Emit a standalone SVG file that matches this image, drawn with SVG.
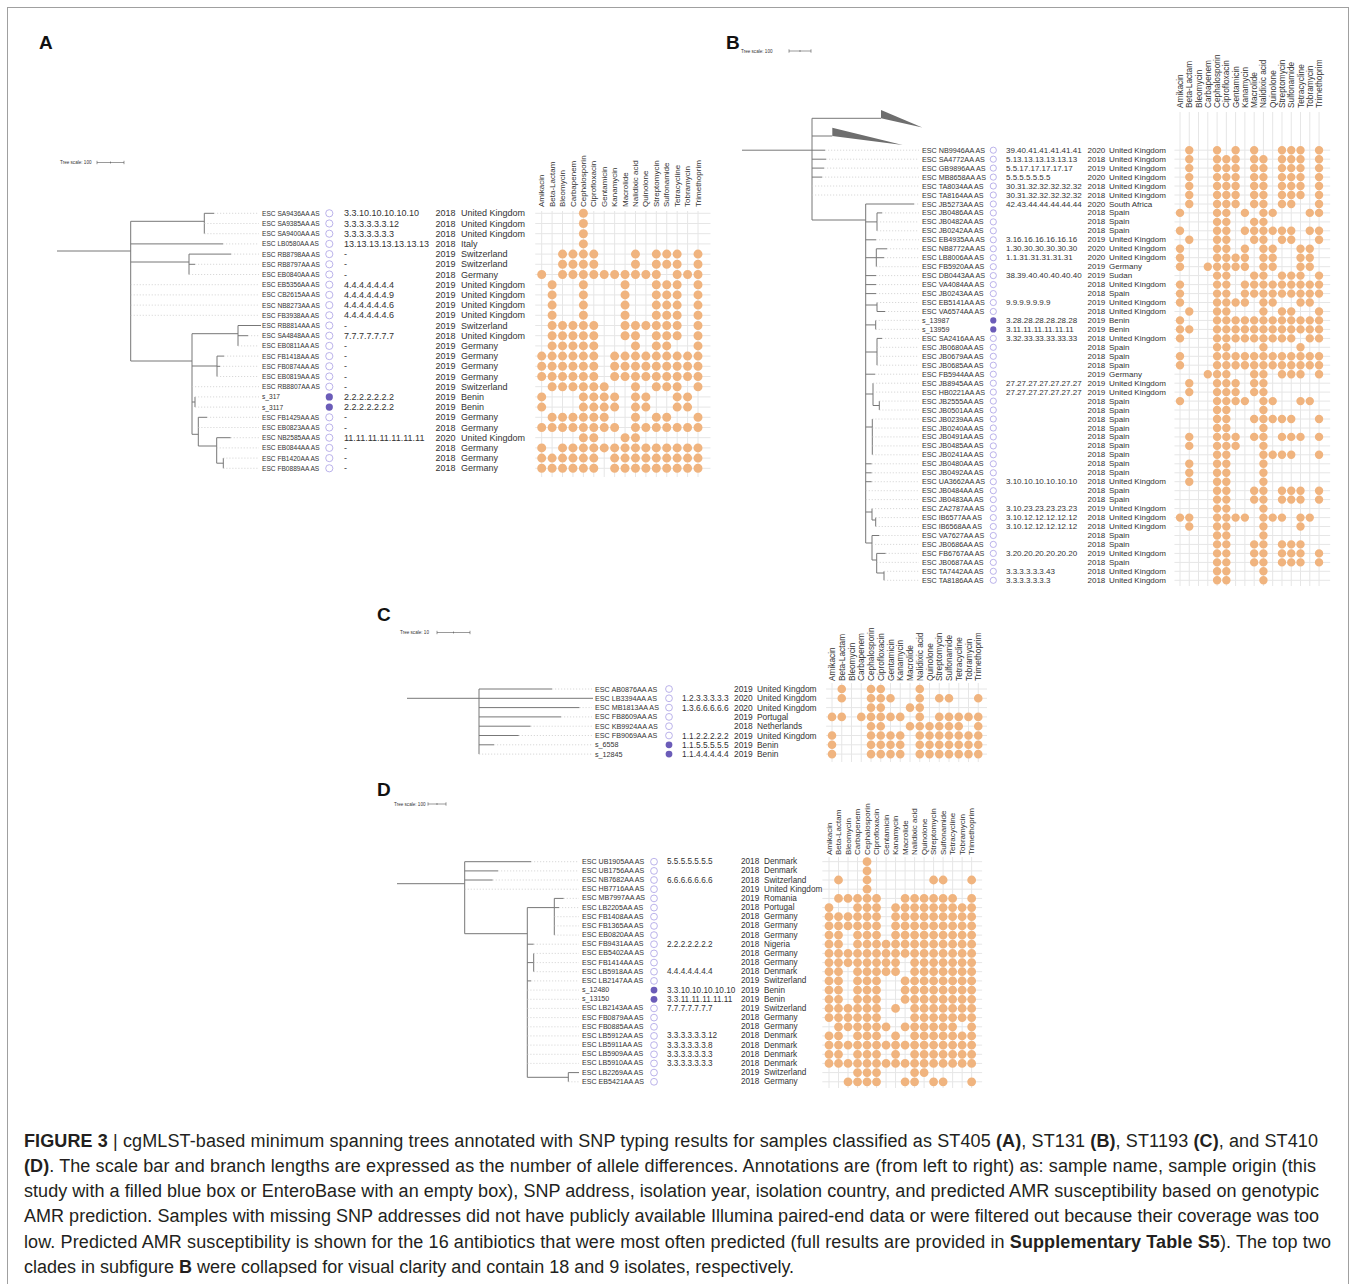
<svg xmlns="http://www.w3.org/2000/svg" width="1356" height="1284" viewBox="0 0 1356 1284">
<style>
text{font-family:"Liberation Sans",Arial,Helvetica,sans-serif;fill:#333;dominant-baseline:central}
.nA{font-size:6.6px}.nB{font-size:7.2px}.nC{font-size:7.2px}.nD{font-size:7.1px}
.o{fill:#fff;stroke:#aaa0e4;stroke-width:.8}
.f{fill:#6b5cb8}
.d{fill:none;stroke:#f0b47f;stroke-linecap:round;vector-effect:non-scaling-stroke}
.dA{stroke-width:9}.dB{stroke-width:8.4}.dC{stroke-width:8.6}.dD{stroke-width:8.8}
.g{fill:none;stroke:#e6e6e6;stroke-width:1;vector-effect:non-scaling-stroke}
.tr{fill:none;stroke:#777;stroke-width:1}
.ld{fill:none;stroke:#c8c8c8;stroke-width:.7;stroke-dasharray:1.2 1.8}
.tri{fill:#6e6e6e}
.pl{font-size:19px;font-weight:bold;fill:#111;dominant-baseline:auto}
.ts{font-size:4.6px}
.sb{fill:none;stroke:#555;stroke-width:.6}
.cap{font-size:18px;fill:#231f20;dominant-baseline:auto}
.b{font-weight:bold}
</style>
<rect x="7.5" y="7.5" width="1341" height="1300" fill="none" stroke="#a0a0a0"/>

<!-- PANEL A -->
<g id="panelA">
<text class="pl" x="39" y="48.5">A</text>
<text class="ts" x="60" y="162.5">Tree scale: 100</text>
<path class="sb" d="M97 162.5H124M97 160.8V164.2M124 160.8V164.2M110.5 161.5V163.5"/>
<path id="gridA" class="g" transform="translate(541.7 0) scale(10.42 1)" d="M0 211V477M1 211V477M2 211V477M3 211V477M4 211V477M5 211V477M6 211V477M7 211V477M8 211V477M9 211V477M10 211V477M11 211V477M12 211V477M13 211V477M14 211V477M15 211V477M-0.62 213.3H16.2M-0.62 223.5H16.2M-0.62 233.7H16.2M-0.62 243.9H16.2M-0.62 254.1H16.2M-0.62 264.3H16.2M-0.62 274.5H16.2M-0.62 284.7H16.2M-0.62 294.9H16.2M-0.62 305.1H16.2M-0.62 315.3H16.2M-0.62 325.5H16.2M-0.62 335.7H16.2M-0.62 345.9H16.2M-0.62 356.1H16.2M-0.62 366.3H16.2M-0.62 376.5H16.2M-0.62 386.7H16.2M-0.62 396.9H16.2M-0.62 407.1H16.2M-0.62 417.3H16.2M-0.62 427.5H16.2M-0.62 437.7H16.2M-0.62 447.9H16.2M-0.62 458.1H16.2M-0.62 468.3H16.2"/>
<g id="hdrA" transform="rotate(-90)" font-size="8">
<text x="-207" y="541.7">Amikacin</text><text x="-207" y="552.1">Beta-Lactam</text><text x="-207" y="562.5">Bleomycin</text><text x="-207" y="573">Carbapenem</text><text x="-207" y="583.4">Cephalosporin</text><text x="-207" y="593.8">Ciprofloxacin</text><text x="-207" y="604.2">Gentamicin</text><text x="-207" y="614.6">Kanamycin</text><text x="-207" y="625.1">Macrolide</text><text x="-207" y="635.5">Nalidixic acid</text><text x="-207" y="645.9">Quinolone</text><text x="-207" y="656.3">Streptomycin</text><text x="-207" y="666.7">Sulfonamide</text><text x="-207" y="677.2">Tetracycline</text><text x="-207" y="687.6">Tobramycin</text><text x="-207" y="698">Trimethoprim</text>
</g>
<g id="connA">
<path class="tr" d="M57 251H130.7M130.7 221.3V361M130.7 221.3H204.3M204.3 213.3V233.7M204.3 213.3H214M130.7 243.9H223M130.7 262H189M189 254.1V274.5M189 254.1H231M189 264.3H195M130.7 361H192M192 333.7V434.3M192 333.7H238M238 325.5V345.9M238 325.5H261M238 335.7H248M192 366H217M217 356.1V376.5M217 356.1H224M217 366.3H220M192 402H195M195 396.9V407.1M192 434.3H198.3M198.3 417.3V446M198.3 417.3H207M198.3 446H216.7M216.7 437.7V463.2M216.7 437.7H230.7M216.7 463.2H223.3M223.3 458.1V468.3"/>
<path class="ld" d="M214 213.3H259M204.3 223.5H259M204.3 233.7H259M223 243.9H259M231 254.1H259M195 264.3H259M189 274.5H259M130.7 284.7H259M130.7 294.9H259M130.7 305.1H259M130.7 315.3H259M248 335.7H259M238 345.9H259M224 356.1H259M220 366.3H259M217 376.5H259M192 386.7H259M195 396.9H259M195 407.1H259M207 417.3H259M198.3 427.5H259M230.7 437.7H259M216.7 447.9H259M223.3 458.1H259M223.3 468.3H259"/>
</g>
<g id="nodesA" font-size="9">
<g id="a0" transform="translate(0 213.3)"><text class="nA" x="262">ESC SA9436AA AS</text><circle class="o" cx="329.3" r="3.6"/><text x="344">3.3.10.10.10.10.10</text><text x="435.5">2018</text><text x="461">United Kingdom</text><path class="d dA" transform="translate(541.7 0) scale(10.42 1)" d="M4 0h0"/></g>
<g id="a1" transform="translate(0 223.5)"><text class="nA" x="262">ESC SA9385AA AS</text><circle class="o" cx="329.3" r="3.6"/><text x="344">3.3.3.3.3.3.12</text><text x="435.5">2018</text><text x="461">United Kingdom</text><path class="d dA" transform="translate(541.7 0) scale(10.42 1)" d="M4 0h0"/></g>
<g id="a2" transform="translate(0 233.7)"><text class="nA" x="262">ESC SA9400AA AS</text><circle class="o" cx="329.3" r="3.6"/><text x="344">3.3.3.3.3.3.3</text><text x="435.5">2018</text><text x="461">United Kingdom</text><path class="d dA" transform="translate(541.7 0) scale(10.42 1)" d="M4 0h0"/></g>
<g id="a3" transform="translate(0 243.9)"><text class="nA" x="262">ESC LB0580AA AS</text><circle class="o" cx="329.3" r="3.6"/><text x="344">13.13.13.13.13.13.13</text><text x="435.5">2018</text><text x="461">Italy</text><path class="d dA" transform="translate(541.7 0) scale(10.42 1)" d="M4 0h0"/></g>
<g id="a4" transform="translate(0 254.1)"><text class="nA" x="262">ESC RB8798AA AS</text><circle class="o" cx="329.3" r="3.6"/><text x="344">-</text><text x="435.5">2019</text><text x="461">Switzerland</text><path class="d dA" transform="translate(541.7 0) scale(10.42 1)" d="M2 0h0M3 0h0M4 0h0M5 0h0M9 0h0M11 0h0M12 0h0M13 0h0M15 0h0"/></g>
<g id="a5" transform="translate(0 264.3)"><text class="nA" x="262">ESC RB8797AA AS</text><circle class="o" cx="329.3" r="3.6"/><text x="344">-</text><text x="435.5">2019</text><text x="461">Switzerland</text><path class="d dA" transform="translate(541.7 0) scale(10.42 1)" d="M2 0h0M3 0h0M4 0h0M5 0h0M9 0h0M11 0h0M12 0h0M13 0h0M15 0h0"/></g>
<g id="a6" transform="translate(0 274.5)"><text class="nA" x="262">ESC EB0840AA AS</text><circle class="o" cx="329.3" r="3.6"/><text x="344">-</text><text x="435.5">2018</text><text x="461">Germany</text><path class="d dA" transform="translate(541.7 0) scale(10.42 1)" d="M0 0h0M2 0h0M3 0h0M4 0h0M5 0h0M6 0h0M7 0h0M8 0h0M9 0h0M10 0h0M11 0h0M13 0h0M14 0h0M15 0h0"/></g>
<g id="a7" transform="translate(0 284.7)"><text class="nA" x="262">ESC EB5356AA AS</text><circle class="o" cx="329.3" r="3.6"/><text x="344">4.4.4.4.4.4.4</text><text x="435.5">2019</text><text x="461">United Kingdom</text><path class="d dA" transform="translate(541.7 0) scale(10.42 1)" d="M1 0h0M4 0h0M8 0h0M11 0h0M12 0h0M13 0h0M15 0h0"/></g>
<g id="a8" transform="translate(0 294.9)"><text class="nA" x="262">ESC CB2615AA AS</text><circle class="o" cx="329.3" r="3.6"/><text x="344">4.4.4.4.4.4.9</text><text x="435.5">2019</text><text x="461">United Kingdom</text><path class="d dA" transform="translate(541.7 0) scale(10.42 1)" d="M1 0h0M4 0h0M8 0h0M11 0h0M12 0h0M13 0h0M15 0h0"/></g>
<g id="a9" transform="translate(0 305.1)"><text class="nA" x="262">ESC NB8273AA AS</text><circle class="o" cx="329.3" r="3.6"/><text x="344">4.4.4.4.4.4.6</text><text x="435.5">2019</text><text x="461">United Kingdom</text><path class="d dA" transform="translate(541.7 0) scale(10.42 1)" d="M1 0h0M4 0h0M8 0h0M11 0h0M12 0h0M13 0h0M15 0h0"/></g>
<g id="a10" transform="translate(0 315.3)"><text class="nA" x="262">ESC FB3938AA AS</text><circle class="o" cx="329.3" r="3.6"/><text x="344">4.4.4.4.4.4.6</text><text x="435.5">2019</text><text x="461">United Kingdom</text><path class="d dA" transform="translate(541.7 0) scale(10.42 1)" d="M1 0h0M4 0h0M8 0h0M11 0h0M12 0h0M13 0h0M15 0h0"/></g>
<g id="a11" transform="translate(0 325.5)"><text class="nA" x="262">ESC RB8814AA AS</text><circle class="o" cx="329.3" r="3.6"/><text x="344">-</text><text x="435.5">2019</text><text x="461">Switzerland</text><path class="d dA" transform="translate(541.7 0) scale(10.42 1)" d="M1 0h0M2 0h0M3 0h0M4 0h0M5 0h0M8 0h0M9 0h0M10 0h0M11 0h0M12 0h0M13 0h0M15 0h0"/></g>
<g id="a12" transform="translate(0 335.7)"><text class="nA" x="262">ESC SA4848AA AS</text><circle class="o" cx="329.3" r="3.6"/><text x="344">7.7.7.7.7.7.7</text><text x="435.5">2018</text><text x="461">United Kingdom</text><path class="d dA" transform="translate(541.7 0) scale(10.42 1)" d="M1 0h0M2 0h0M3 0h0M4 0h0M5 0h0M8 0h0M9 0h0M11 0h0M12 0h0M13 0h0M15 0h0"/></g>
<g id="a13" transform="translate(0 345.9)"><text class="nA" x="262">ESC EB0811AA AS</text><circle class="o" cx="329.3" r="3.6"/><text x="344">-</text><text x="435.5">2019</text><text x="461">Germany</text><path class="d dA" transform="translate(541.7 0) scale(10.42 1)" d="M1 0h0M2 0h0M3 0h0M4 0h0M5 0h0M9 0h0M11 0h0M12 0h0M15 0h0"/></g>
<g id="a14" transform="translate(0 356.1)"><text class="nA" x="262">ESC FB1418AA AS</text><circle class="o" cx="329.3" r="3.6"/><text x="344">-</text><text x="435.5">2019</text><text x="461">Germany</text><path class="d dA" transform="translate(541.7 0) scale(10.42 1)" d="M0 0h0M1 0h0M2 0h0M3 0h0M4 0h0M5 0h0M7 0h0M8 0h0M9 0h0M10 0h0M11 0h0M12 0h0M13 0h0M14 0h0M15 0h0"/></g>
<g id="a15" transform="translate(0 366.3)"><text class="nA" x="262">ESC FB0874AA AS</text><circle class="o" cx="329.3" r="3.6"/><text x="344">-</text><text x="435.5">2019</text><text x="461">Germany</text><path class="d dA" transform="translate(541.7 0) scale(10.42 1)" d="M0 0h0M1 0h0M2 0h0M3 0h0M4 0h0M5 0h0M7 0h0M8 0h0M9 0h0M10 0h0M11 0h0M12 0h0M13 0h0M14 0h0M15 0h0"/></g>
<g id="a16" transform="translate(0 376.5)"><text class="nA" x="262">ESC EB0819AA AS</text><circle class="o" cx="329.3" r="3.6"/><text x="344">-</text><text x="435.5">2019</text><text x="461">Germany</text><path class="d dA" transform="translate(541.7 0) scale(10.42 1)" d="M0 0h0M1 0h0M2 0h0M3 0h0M4 0h0M5 0h0M7 0h0M8 0h0M9 0h0M10 0h0M11 0h0M12 0h0M13 0h0M14 0h0M15 0h0"/></g>
<g id="a17" transform="translate(0 386.7)"><text class="nA" x="262">ESC RB8807AA AS</text><circle class="o" cx="329.3" r="3.6"/><text x="344">-</text><text x="435.5">2019</text><text x="461">Switzerland</text><path class="d dA" transform="translate(541.7 0) scale(10.42 1)" d="M1 0h0M2 0h0M3 0h0M4 0h0M5 0h0M6 0h0M9 0h0M11 0h0M12 0h0M13 0h0M15 0h0"/></g>
<g id="a18" transform="translate(0 396.9)"><text class="nA" x="262">s_317</text><circle class="f" cx="329.3" r="3.6"/><text x="344">2.2.2.2.2.2.2</text><text x="435.5">2019</text><text x="461">Benin</text><path class="d dA" transform="translate(541.7 0) scale(10.42 1)" d="M0 0h0M4 0h0M5 0h0M6 0h0M7 0h0M9 0h0M10 0h0M13 0h0M14 0h0"/></g>
<g id="a19" transform="translate(0 407.1)"><text class="nA" x="262">s_3117</text><circle class="f" cx="329.3" r="3.6"/><text x="344">2.2.2.2.2.2.2</text><text x="435.5">2019</text><text x="461">Benin</text><path class="d dA" transform="translate(541.7 0) scale(10.42 1)" d="M0 0h0M4 0h0M5 0h0M6 0h0M7 0h0M9 0h0M10 0h0M13 0h0M14 0h0"/></g>
<g id="a20" transform="translate(0 417.3)"><text class="nA" x="262">ESC FB1429AA AS</text><circle class="o" cx="329.3" r="3.6"/><text x="344">-</text><text x="435.5">2019</text><text x="461">Germany</text><path class="d dA" transform="translate(541.7 0) scale(10.42 1)" d="M1 0h0M2 0h0M3 0h0M4 0h0M5 0h0M6 0h0M9 0h0M11 0h0M12 0h0M15 0h0"/></g>
<g id="a21" transform="translate(0 427.5)"><text class="nA" x="262">ESC EB0823AA AS</text><circle class="o" cx="329.3" r="3.6"/><text x="344">-</text><text x="435.5">2018</text><text x="461">Germany</text><path class="d dA" transform="translate(541.7 0) scale(10.42 1)" d="M0 0h0M1 0h0M2 0h0M3 0h0M4 0h0M5 0h0M6 0h0M7 0h0M9 0h0M10 0h0M11 0h0M12 0h0M13 0h0M14 0h0M15 0h0"/></g>
<g id="a22" transform="translate(0 437.7)"><text class="nA" x="262">ESC NB2585AA AS</text><circle class="o" cx="329.3" r="3.6"/><text x="344">11.11.11.11.11.11.11</text><text x="435.5">2020</text><text x="461">United Kingdom</text><path class="d dA" transform="translate(541.7 0) scale(10.42 1)" d="M4 0h0M5 0h0M8 0h0M9 0h0"/></g>
<g id="a23" transform="translate(0 447.9)"><text class="nA" x="262">ESC EB0844AA AS</text><circle class="o" cx="329.3" r="3.6"/><text x="344">-</text><text x="435.5">2018</text><text x="461">Germany</text><path class="d dA" transform="translate(541.7 0) scale(10.42 1)" d="M0 0h0M2 0h0M3 0h0M4 0h0M5 0h0M6 0h0M7 0h0M8 0h0M9 0h0M10 0h0M11 0h0M12 0h0M13 0h0M14 0h0M15 0h0"/></g>
<g id="a24" transform="translate(0 458.1)"><text class="nA" x="262">ESC FB1420AA AS</text><circle class="o" cx="329.3" r="3.6"/><text x="344">-</text><text x="435.5">2018</text><text x="461">Germany</text><path class="d dA" transform="translate(541.7 0) scale(10.42 1)" d="M0 0h0M1 0h0M2 0h0M3 0h0M4 0h0M5 0h0M7 0h0M8 0h0M9 0h0M10 0h0M11 0h0M12 0h0M13 0h0M14 0h0M15 0h0"/></g>
<g id="a25" transform="translate(0 468.3)"><text class="nA" x="262">ESC FB0889AA AS</text><circle class="o" cx="329.3" r="3.6"/><text x="344">-</text><text x="435.5">2018</text><text x="461">Germany</text><path class="d dA" transform="translate(541.7 0) scale(10.42 1)" d="M0 0h0M1 0h0M2 0h0M3 0h0M4 0h0M5 0h0M7 0h0M8 0h0M9 0h0M10 0h0M11 0h0M12 0h0M13 0h0M14 0h0M15 0h0"/></g>
</g>
</g>

<!-- PANEL B -->
<g id="panelB">
<text class="pl" x="726" y="48.5">B</text>
<text class="ts" x="741" y="51">Tree scale: 100</text>
<path class="sb" d="M789 51H811M789 49.3V52.7M811 49.3V52.7M800 50V52"/>
<path id="gridB" class="g" transform="translate(1180 0) scale(9.27 1)" d="M0 112V586M1 112V586M2 112V586M3 112V586M4 112V586M5 112V586M6 112V586M7 112V586M8 112V586M9 112V586M10 112V586M11 112V586M12 112V586M13 112V586M14 112V586M15 112V586M-0.6 150.2H16.2M-0.6 159.2H16.2M-0.6 168.1H16.2M-0.6 177.1H16.2M-0.6 186H16.2M-0.6 195H16.2M-0.6 204H16.2M-0.6 212.9H16.2M-0.6 221.9H16.2M-0.6 230.8H16.2M-0.6 239.8H16.2M-0.6 248.8H16.2M-0.6 257.7H16.2M-0.6 266.7H16.2M-0.6 275.6H16.2M-0.6 284.6H16.2M-0.6 293.6H16.2M-0.6 302.5H16.2M-0.6 311.5H16.2M-0.6 320.4H16.2M-0.6 329.4H16.2M-0.6 338.4H16.2M-0.6 347.3H16.2M-0.6 356.3H16.2M-0.6 365.2H16.2M-0.6 374.2H16.2M-0.6 383.2H16.2M-0.6 392.1H16.2M-0.6 401.1H16.2M-0.6 410H16.2M-0.6 419H16.2M-0.6 428H16.2M-0.6 436.9H16.2M-0.6 445.9H16.2M-0.6 454.8H16.2M-0.6 463.8H16.2M-0.6 472.8H16.2M-0.6 481.7H16.2M-0.6 490.7H16.2M-0.6 499.6H16.2M-0.6 508.6H16.2M-0.6 517.6H16.2M-0.6 526.5H16.2M-0.6 535.5H16.2M-0.6 544.4H16.2M-0.6 553.4H16.2M-0.6 562.4H16.2M-0.6 571.3H16.2M-0.6 580.3H16.2"/>
<g id="hdrB" transform="rotate(-90)" font-size="8.3">
<text x="-108" y="1180">Amikacin</text><text x="-108" y="1189.3">Beta-Lactam</text><text x="-108" y="1198.5">Bleomycin</text><text x="-108" y="1207.8">Carbapenem</text><text x="-108" y="1217.1">Cephalosporin</text><text x="-108" y="1226.4">Ciprofloxacin</text><text x="-108" y="1235.6">Gentamicin</text><text x="-108" y="1244.9">Kanamycin</text><text x="-108" y="1254.2">Macrolide</text><text x="-108" y="1263.4">Nalidixic acid</text><text x="-108" y="1272.7">Quinolone</text><text x="-108" y="1282">Streptomycin</text><text x="-108" y="1291.2">Sulfonamide</text><text x="-108" y="1300.5">Tetracycline</text><text x="-108" y="1309.8">Tobramycin</text><text x="-108" y="1319.1">Trimethoprim</text>
</g>
<g id="connB">
<path class="tr" d="M742 150.2H825M812 118.3V220M812 118.3H881M812 136H832.3M812 159.2H826M812 168.1H824M812 177.1H822M812 220H865.7M865.7 204V543M865.7 204H914M865.7 221.9H877M877 212.9V230.8M877 212.9H882M865.7 239.8H876M865.7 257.7H876.3M876.3 248.8V266.7M876.3 248.8H887M876.3 257.7H884M865.7 275.6H876M865.7 284.6H876M865.7 293.6H876M865.7 305H877M877 302.5V311.5M877 311.5H885M865.7 324.9H875.7M875.7 320.4V329.4M865.7 352H877M877 338.4V365.2M877 338.4H882M865.7 374.2H875M865.7 394H873M873 383.2V405.5M873 405.5H879.3M879.3 401.1V410M865.7 427H872.3M872.3 419V454.8M865.7 463.8H871.7M865.7 472.8H871.7M865.7 481.7H871.7M865.7 512H872M872 508.6V520M872 520H875.7M875.7 517.6V526.5M865.7 543H872M872 535.5V560M872 535.5H879.3M872 560H876.7M876.7 553.4V573M876.7 553.4H885.7M876.7 573H884M884 571.3V580.3"/>
<polygon class="tri" points="881,110 881,118.3 922.3,127.5"/>
<polygon class="tri" points="832.3,127.7 832.3,136 902.7,145"/>
<path class="ld" d="M825 150.2H919M826 159.2H919M824 168.1H919M822 177.1H919M812 186H919M812 195H919M914 204H919M882 212.9H919M877 221.9H919M877 230.8H919M876 239.8H919M887 248.8H919M884 257.7H919M876.3 266.7H919M876 275.6H919M876 284.6H919M876 293.6H919M877 302.5H919M885 311.5H919M875.7 320.4H919M875.7 329.4H919M882 338.4H919M877 347.3H919M877 356.3H919M877 365.2H919M875 374.2H919M873 383.2H919M873 392.1H919M879.3 401.1H919M879.3 410H919M872.3 419H919M872.3 428H919M872.3 436.9H919M872.3 445.9H919M872.3 454.8H919M871.7 463.8H919M871.7 472.8H919M871.7 481.7H919M865.7 490.7H919M865.7 499.6H919M872 508.6H919M875.7 517.6H919M875.7 526.5H919M879.3 535.5H919M872 544.4H919M885.7 553.4H919M876.7 562.4H919M884 571.3H919M884 580.3H919"/>
</g>
<g id="nodesB" font-size="8">
<g id="b0" transform="translate(0 150.2)"><text class="nB" x="922">ESC NB9946AA AS</text><circle class="o" cx="993.3" r="3.1"/><text x="1006">39.40.41.41.41.41.41</text><text x="1087.5">2020</text><text x="1109">United Kingdom</text><path class="d dB" transform="translate(1180 0) scale(9.27 1)" d="M1 0h0M4 0h0M6 0h0M8 0h0M11 0h0M12 0h0M13 0h0M15 0h0"/></g>
<g id="b1" transform="translate(0 159.2)"><text class="nB" x="922">ESC SA4772AA AS</text><circle class="o" cx="993.3" r="3.1"/><text x="1006">5.13.13.13.13.13.13</text><text x="1087.5">2018</text><text x="1109">United Kingdom</text><path class="d dB" transform="translate(1180 0) scale(9.27 1)" d="M1 0h0M4 0h0M5 0h0M6 0h0M8 0h0M9 0h0M11 0h0M12 0h0M13 0h0M15 0h0"/></g>
<g id="b2" transform="translate(0 168.1)"><text class="nB" x="922">ESC GB9896AA AS</text><circle class="o" cx="993.3" r="3.1"/><text x="1006">5.5.17.17.17.17.17</text><text x="1087.5">2019</text><text x="1109">United Kingdom</text><path class="d dB" transform="translate(1180 0) scale(9.27 1)" d="M1 0h0M4 0h0M5 0h0M6 0h0M8 0h0M9 0h0M11 0h0M12 0h0M13 0h0M15 0h0"/></g>
<g id="b3" transform="translate(0 177.1)"><text class="nB" x="922">ESC MB8658AA AS</text><circle class="o" cx="993.3" r="3.1"/><text x="1006">5.5.5.5.5.5.5</text><text x="1087.5">2020</text><text x="1109">United Kingdom</text><path class="d dB" transform="translate(1180 0) scale(9.27 1)" d="M1 0h0M4 0h0M5 0h0M6 0h0M8 0h0M9 0h0M11 0h0M12 0h0M13 0h0M15 0h0"/></g>
<g id="b4" transform="translate(0 186)"><text class="nB" x="922">ESC TA8034AA AS</text><circle class="o" cx="993.3" r="3.1"/><text x="1006">30.31.32.32.32.32.32</text><text x="1087.5">2018</text><text x="1109">United Kingdom</text><path class="d dB" transform="translate(1180 0) scale(9.27 1)" d="M1 0h0M4 0h0M5 0h0M6 0h0M8 0h0M9 0h0M11 0h0M12 0h0M13 0h0M15 0h0"/></g>
<g id="b5" transform="translate(0 195)"><text class="nB" x="922">ESC TA8164AA AS</text><circle class="o" cx="993.3" r="3.1"/><text x="1006">30.31.32.32.32.32.32</text><text x="1087.5">2018</text><text x="1109">United Kingdom</text><path class="d dB" transform="translate(1180 0) scale(9.27 1)" d="M1 0h0M4 0h0M5 0h0M6 0h0M8 0h0M9 0h0M11 0h0M12 0h0M13 0h0M15 0h0"/></g>
<g id="b6" transform="translate(0 204)"><text class="nB" x="922">ESC JB5273AA AS</text><circle class="o" cx="993.3" r="3.1"/><text x="1006">42.43.44.44.44.44.44</text><text x="1087.5">2020</text><text x="1109">South Africa</text><path class="d dB" transform="translate(1180 0) scale(9.27 1)" d="M1 0h0M4 0h0M5 0h0M6 0h0M8 0h0M9 0h0M11 0h0M12 0h0M15 0h0"/></g>
<g id="b7" transform="translate(0 212.9)"><text class="nB" x="922">ESC JB0486AA AS</text><circle class="o" cx="993.3" r="3.1"/><text x="1087.5">2018</text><text x="1109">Spain</text><path class="d dB" transform="translate(1180 0) scale(9.27 1)" d="M0 0h0M4 0h0M5 0h0M7 0h0M9 0h0M10 0h0M14 0h0M15 0h0"/></g>
<g id="b8" transform="translate(0 221.9)"><text class="nB" x="922">ESC JB0482AA AS</text><circle class="o" cx="993.3" r="3.1"/><text x="1087.5">2018</text><text x="1109">Spain</text><path class="d dB" transform="translate(1180 0) scale(9.27 1)" d="M4 0h0M5 0h0M8 0h0M9 0h0"/></g>
<g id="b9" transform="translate(0 230.8)"><text class="nB" x="922">ESC JB0242AA AS</text><circle class="o" cx="993.3" r="3.1"/><text x="1087.5">2018</text><text x="1109">Spain</text><path class="d dB" transform="translate(1180 0) scale(9.27 1)" d="M0 0h0M4 0h0M5 0h0M7 0h0M8 0h0M9 0h0M10 0h0M11 0h0M12 0h0M14 0h0M15 0h0"/></g>
<g id="b10" transform="translate(0 239.8)"><text class="nB" x="922">ESC EB4935AA AS</text><circle class="o" cx="993.3" r="3.1"/><text x="1006">3.16.16.16.16.16.16</text><text x="1087.5">2019</text><text x="1109">United Kingdom</text><path class="d dB" transform="translate(1180 0) scale(9.27 1)" d="M1 0h0M4 0h0M5 0h0M8 0h0M9 0h0M11 0h0M12 0h0M15 0h0"/></g>
<g id="b11" transform="translate(0 248.8)"><text class="nB" x="922">ESC NB8772AA AS</text><circle class="o" cx="993.3" r="3.1"/><text x="1006">1.30.30.30.30.30.30</text><text x="1087.5">2020</text><text x="1109">United Kingdom</text><path class="d dB" transform="translate(1180 0) scale(9.27 1)" d="M0 0h0M4 0h0M5 0h0M7 0h0M9 0h0M10 0h0M13 0h0M14 0h0"/></g>
<g id="b12" transform="translate(0 257.7)"><text class="nB" x="922">ESC LB8006AA AS</text><circle class="o" cx="993.3" r="3.1"/><text x="1006">1.1.31.31.31.31.31</text><text x="1087.5">2020</text><text x="1109">United Kingdom</text><path class="d dB" transform="translate(1180 0) scale(9.27 1)" d="M0 0h0M4 0h0M5 0h0M6 0h0M7 0h0M9 0h0M10 0h0M13 0h0M14 0h0"/></g>
<g id="b13" transform="translate(0 266.7)"><text class="nB" x="922">ESC FB5920AA AS</text><circle class="o" cx="993.3" r="3.1"/><text x="1087.5">2019</text><text x="1109">Germany</text><path class="d dB" transform="translate(1180 0) scale(9.27 1)" d="M0 0h0M3 0h0M4 0h0M5 0h0M6 0h0M7 0h0M9 0h0M10 0h0M13 0h0M14 0h0"/></g>
<g id="b14" transform="translate(0 275.6)"><text class="nB" x="922">ESC DB0443AA AS</text><circle class="o" cx="993.3" r="3.1"/><text x="1006">38.39.40.40.40.40.40</text><text x="1087.5">2019</text><text x="1109">Sudan</text><path class="d dB" transform="translate(1180 0) scale(9.27 1)" d="M4 0h0M5 0h0M8 0h0M9 0h0M11 0h0M12 0h0M13 0h0M15 0h0"/></g>
<g id="b15" transform="translate(0 284.6)"><text class="nB" x="922">ESC VA4084AA AS</text><circle class="o" cx="993.3" r="3.1"/><text x="1087.5">2018</text><text x="1109">United Kingdom</text><path class="d dB" transform="translate(1180 0) scale(9.27 1)" d="M0 0h0M4 0h0M5 0h0M7 0h0M8 0h0M9 0h0M10 0h0M11 0h0M12 0h0M13 0h0M14 0h0M15 0h0"/></g>
<g id="b16" transform="translate(0 293.6)"><text class="nB" x="922">ESC JB0243AA AS</text><circle class="o" cx="993.3" r="3.1"/><text x="1087.5">2018</text><text x="1109">Spain</text><path class="d dB" transform="translate(1180 0) scale(9.27 1)" d="M0 0h0M4 0h0M5 0h0M7 0h0M8 0h0M9 0h0M10 0h0M11 0h0M12 0h0M13 0h0M14 0h0M15 0h0"/></g>
<g id="b17" transform="translate(0 302.5)"><text class="nB" x="922">ESC EB5141AA AS</text><circle class="o" cx="993.3" r="3.1"/><text x="1006">9.9.9.9.9.9.9</text><text x="1087.5">2019</text><text x="1109">United Kingdom</text><path class="d dB" transform="translate(1180 0) scale(9.27 1)" d="M0 0h0M4 0h0M5 0h0M6 0h0M7 0h0M9 0h0M10 0h0M13 0h0M14 0h0"/></g>
<g id="b18" transform="translate(0 311.5)"><text class="nB" x="922">ESC VA6574AA AS</text><circle class="o" cx="993.3" r="3.1"/><text x="1087.5">2018</text><text x="1109">United Kingdom</text><path class="d dB" transform="translate(1180 0) scale(9.27 1)" d="M1 0h0M4 0h0M5 0h0M9 0h0M11 0h0M12 0h0M15 0h0"/></g>
<g id="b19" transform="translate(0 320.4)"><text class="nB" x="922">s_13987</text><circle class="f" cx="993.3" r="3.1"/><text x="1006">3.28.28.28.28.28.28</text><text x="1087.5">2019</text><text x="1109">Benin</text><path class="d dB" transform="translate(1180 0) scale(9.27 1)" d="M0 0h0M4 0h0M5 0h0M6 0h0M7 0h0M8 0h0M9 0h0M10 0h0M11 0h0M12 0h0M13 0h0M14 0h0M15 0h0"/></g>
<g id="b20" transform="translate(0 329.4)"><text class="nB" x="922">s_13959</text><circle class="f" cx="993.3" r="3.1"/><text x="1006">3.11.11.11.11.11.11</text><text x="1087.5">2019</text><text x="1109">Benin</text><path class="d dB" transform="translate(1180 0) scale(9.27 1)" d="M0 0h0M1 0h0M4 0h0M5 0h0M6 0h0M7 0h0M8 0h0M9 0h0M10 0h0M11 0h0M12 0h0M13 0h0M14 0h0M15 0h0"/></g>
<g id="b21" transform="translate(0 338.4)"><text class="nB" x="922">ESC SA2416AA AS</text><circle class="o" cx="993.3" r="3.1"/><text x="1006">3.32.33.33.33.33.33</text><text x="1087.5">2018</text><text x="1109">United Kingdom</text><path class="d dB" transform="translate(1180 0) scale(9.27 1)" d="M0 0h0M4 0h0M5 0h0M6 0h0M7 0h0M8 0h0M9 0h0M10 0h0M11 0h0M12 0h0M14 0h0M15 0h0"/></g>
<g id="b22" transform="translate(0 347.3)"><text class="nB" x="922">ESC JB0680AA AS</text><circle class="o" cx="993.3" r="3.1"/><text x="1087.5">2018</text><text x="1109">Spain</text><path class="d dB" transform="translate(1180 0) scale(9.27 1)" d="M4 0h0M5 0h0M9 0h0M13 0h0"/></g>
<g id="b23" transform="translate(0 356.3)"><text class="nB" x="922">ESC JB0679AA AS</text><circle class="o" cx="993.3" r="3.1"/><text x="1087.5">2018</text><text x="1109">Spain</text><path class="d dB" transform="translate(1180 0) scale(9.27 1)" d="M0 0h0M4 0h0M5 0h0M6 0h0M7 0h0M8 0h0M9 0h0M10 0h0M11 0h0M12 0h0M13 0h0M14 0h0M15 0h0"/></g>
<g id="b24" transform="translate(0 365.2)"><text class="nB" x="922">ESC JB0685AA AS</text><circle class="o" cx="993.3" r="3.1"/><text x="1087.5">2018</text><text x="1109">Spain</text><path class="d dB" transform="translate(1180 0) scale(9.27 1)" d="M0 0h0M4 0h0M5 0h0M6 0h0M7 0h0M8 0h0M9 0h0M10 0h0M11 0h0M12 0h0M13 0h0M14 0h0M15 0h0"/></g>
<g id="b25" transform="translate(0 374.2)"><text class="nB" x="922">ESC FB5944AA AS</text><circle class="o" cx="993.3" r="3.1"/><text x="1087.5">2019</text><text x="1109">Germany</text><path class="d dB" transform="translate(1180 0) scale(9.27 1)" d="M3 0h0M4 0h0M5 0h0M8 0h0M9 0h0M11 0h0M12 0h0M13 0h0M15 0h0"/></g>
<g id="b26" transform="translate(0 383.2)"><text class="nB" x="922">ESC JB8945AA AS</text><circle class="o" cx="993.3" r="3.1"/><text x="1006">27.27.27.27.27.27.27</text><text x="1087.5">2019</text><text x="1109">United Kingdom</text><path class="d dB" transform="translate(1180 0) scale(9.27 1)" d="M1 0h0M4 0h0M5 0h0M6 0h0M8 0h0M9 0h0"/></g>
<g id="b27" transform="translate(0 392.1)"><text class="nB" x="922">ESC HB0221AA AS</text><circle class="o" cx="993.3" r="3.1"/><text x="1006">27.27.27.27.27.27.27</text><text x="1087.5">2019</text><text x="1109">United Kingdom</text><path class="d dB" transform="translate(1180 0) scale(9.27 1)" d="M1 0h0M4 0h0M5 0h0M6 0h0M8 0h0M9 0h0"/></g>
<g id="b28" transform="translate(0 401.1)"><text class="nB" x="922">ESC JB2555AA AS</text><circle class="o" cx="993.3" r="3.1"/><text x="1087.5">2018</text><text x="1109">Spain</text><path class="d dB" transform="translate(1180 0) scale(9.27 1)" d="M0 0h0M4 0h0M5 0h0M6 0h0M7 0h0M9 0h0M10 0h0M13 0h0M14 0h0"/></g>
<g id="b29" transform="translate(0 410)"><text class="nB" x="922">ESC JB0501AA AS</text><circle class="o" cx="993.3" r="3.1"/><text x="1087.5">2018</text><text x="1109">Spain</text><path class="d dB" transform="translate(1180 0) scale(9.27 1)" d="M4 0h0M5 0h0M9 0h0"/></g>
<g id="b30" transform="translate(0 419)"><text class="nB" x="922">ESC JB0239AA AS</text><circle class="o" cx="993.3" r="3.1"/><text x="1087.5">2018</text><text x="1109">Spain</text><path class="d dB" transform="translate(1180 0) scale(9.27 1)" d="M4 0h0M5 0h0M8 0h0M9 0h0M10 0h0M11 0h0M12 0h0M15 0h0"/></g>
<g id="b31" transform="translate(0 428)"><text class="nB" x="922">ESC JB0240AA AS</text><circle class="o" cx="993.3" r="3.1"/><text x="1087.5">2018</text><text x="1109">Spain</text><path class="d dB" transform="translate(1180 0) scale(9.27 1)" d="M4 0h0M5 0h0M9 0h0"/></g>
<g id="b32" transform="translate(0 436.9)"><text class="nB" x="922">ESC JB0491AA AS</text><circle class="o" cx="993.3" r="3.1"/><text x="1087.5">2018</text><text x="1109">Spain</text><path class="d dB" transform="translate(1180 0) scale(9.27 1)" d="M1 0h0M4 0h0M5 0h0M6 0h0M8 0h0M9 0h0M11 0h0M12 0h0M13 0h0M15 0h0"/></g>
<g id="b33" transform="translate(0 445.9)"><text class="nB" x="922">ESC JB0485AA AS</text><circle class="o" cx="993.3" r="3.1"/><text x="1087.5">2018</text><text x="1109">Spain</text><path class="d dB" transform="translate(1180 0) scale(9.27 1)" d="M1 0h0M4 0h0M5 0h0M6 0h0M9 0h0"/></g>
<g id="b34" transform="translate(0 454.8)"><text class="nB" x="922">ESC JB0241AA AS</text><circle class="o" cx="993.3" r="3.1"/><text x="1087.5">2018</text><text x="1109">Spain</text><path class="d dB" transform="translate(1180 0) scale(9.27 1)" d="M4 0h0M5 0h0M9 0h0M10 0h0M11 0h0M12 0h0M15 0h0"/></g>
<g id="b35" transform="translate(0 463.8)"><text class="nB" x="922">ESC JB0480AA AS</text><circle class="o" cx="993.3" r="3.1"/><text x="1087.5">2018</text><text x="1109">Spain</text><path class="d dB" transform="translate(1180 0) scale(9.27 1)" d="M1 0h0M4 0h0M5 0h0M9 0h0"/></g>
<g id="b36" transform="translate(0 472.8)"><text class="nB" x="922">ESC JB0492AA AS</text><circle class="o" cx="993.3" r="3.1"/><text x="1087.5">2018</text><text x="1109">Spain</text><path class="d dB" transform="translate(1180 0) scale(9.27 1)" d="M1 0h0M4 0h0M5 0h0M9 0h0"/></g>
<g id="b37" transform="translate(0 481.7)"><text class="nB" x="922">ESC UA3662AA AS</text><circle class="o" cx="993.3" r="3.1"/><text x="1006">3.10.10.10.10.10.10</text><text x="1087.5">2018</text><text x="1109">United Kingdom</text><path class="d dB" transform="translate(1180 0) scale(9.27 1)" d="M1 0h0M4 0h0M5 0h0M9 0h0"/></g>
<g id="b38" transform="translate(0 490.7)"><text class="nB" x="922">ESC JB0484AA AS</text><circle class="o" cx="993.3" r="3.1"/><text x="1087.5">2018</text><text x="1109">Spain</text><path class="d dB" transform="translate(1180 0) scale(9.27 1)" d="M4 0h0M5 0h0M8 0h0M9 0h0M11 0h0M12 0h0M13 0h0M15 0h0"/></g>
<g id="b39" transform="translate(0 499.6)"><text class="nB" x="922">ESC JB0483AA AS</text><circle class="o" cx="993.3" r="3.1"/><text x="1087.5">2018</text><text x="1109">Spain</text><path class="d dB" transform="translate(1180 0) scale(9.27 1)" d="M4 0h0M5 0h0M8 0h0M9 0h0M11 0h0M12 0h0M13 0h0M15 0h0"/></g>
<g id="b40" transform="translate(0 508.6)"><text class="nB" x="922">ESC ZA2787AA AS</text><circle class="o" cx="993.3" r="3.1"/><text x="1006">3.10.23.23.23.23.23</text><text x="1087.5">2019</text><text x="1109">United Kingdom</text><path class="d dB" transform="translate(1180 0) scale(9.27 1)" d="M4 0h0M5 0h0M9 0h0"/></g>
<g id="b41" transform="translate(0 517.6)"><text class="nB" x="922">ESC IB6577AA AS</text><circle class="o" cx="993.3" r="3.1"/><text x="1006">3.10.12.12.12.12.12</text><text x="1087.5">2018</text><text x="1109">United Kingdom</text><path class="d dB" transform="translate(1180 0) scale(9.27 1)" d="M0 0h0M1 0h0M4 0h0M5 0h0M6 0h0M7 0h0M9 0h0M10 0h0M11 0h0M13 0h0M14 0h0"/></g>
<g id="b42" transform="translate(0 526.5)"><text class="nB" x="922">ESC IB6568AA AS</text><circle class="o" cx="993.3" r="3.1"/><text x="1006">3.10.12.12.12.12.12</text><text x="1087.5">2018</text><text x="1109">United Kingdom</text><path class="d dB" transform="translate(1180 0) scale(9.27 1)" d="M1 0h0M4 0h0M5 0h0M9 0h0M13 0h0"/></g>
<g id="b43" transform="translate(0 535.5)"><text class="nB" x="922">ESC VA7627AA AS</text><circle class="o" cx="993.3" r="3.1"/><text x="1087.5">2018</text><text x="1109">Spain</text><path class="d dB" transform="translate(1180 0) scale(9.27 1)" d="M4 0h0M5 0h0M9 0h0"/></g>
<g id="b44" transform="translate(0 544.4)"><text class="nB" x="922">ESC JB0686AA AS</text><circle class="o" cx="993.3" r="3.1"/><text x="1087.5">2018</text><text x="1109">Spain</text><path class="d dB" transform="translate(1180 0) scale(9.27 1)" d="M4 0h0M5 0h0M8 0h0M9 0h0M11 0h0M12 0h0M13 0h0"/></g>
<g id="b45" transform="translate(0 553.4)"><text class="nB" x="922">ESC FB6767AA AS</text><circle class="o" cx="993.3" r="3.1"/><text x="1006">3.20.20.20.20.20.20</text><text x="1087.5">2019</text><text x="1109">United Kingdom</text><path class="d dB" transform="translate(1180 0) scale(9.27 1)" d="M4 0h0M5 0h0M8 0h0M9 0h0M11 0h0M12 0h0M13 0h0M15 0h0"/></g>
<g id="b46" transform="translate(0 562.4)"><text class="nB" x="922">ESC JB0687AA AS</text><circle class="o" cx="993.3" r="3.1"/><text x="1087.5">2018</text><text x="1109">Spain</text><path class="d dB" transform="translate(1180 0) scale(9.27 1)" d="M4 0h0M5 0h0M8 0h0M9 0h0M11 0h0M12 0h0M13 0h0M15 0h0"/></g>
<g id="b47" transform="translate(0 571.3)"><text class="nB" x="922">ESC TA7442AA AS</text><circle class="o" cx="993.3" r="3.1"/><text x="1006">3.3.3.3.3.3.43</text><text x="1087.5">2018</text><text x="1109">United Kingdom</text><path class="d dB" transform="translate(1180 0) scale(9.27 1)" d="M4 0h0M5 0h0M9 0h0"/></g>
<g id="b48" transform="translate(0 580.3)"><text class="nB" x="922">ESC TA8186AA AS</text><circle class="o" cx="993.3" r="3.1"/><text x="1006">3.3.3.3.3.3.3</text><text x="1087.5">2018</text><text x="1109">United Kingdom</text><path class="d dB" transform="translate(1180 0) scale(9.27 1)" d="M4 0h0M5 0h0M9 0h0"/></g>
</g>
</g>

<!-- PANEL C -->
<g id="panelC">
<text class="pl" x="377" y="620.5">C</text>
<text class="ts" x="400" y="632.5">Tree scale: 10</text>
<path class="sb" d="M437 632.5H470M437 630.8V634.2M470 630.8V634.2M453.5 631.5V633.5"/>
<path id="gridC" class="g" transform="translate(832 0) scale(9.75 1)" d="M0 683V762M1 683V762M2 683V762M3 683V762M4 683V762M5 683V762M6 683V762M7 683V762M8 683V762M9 683V762M10 683V762M11 683V762M12 683V762M13 683V762M14 683V762M15 683V762M-0.6 689H15.9M-0.6 698.3H15.9M-0.6 707.6H15.9M-0.6 716.9H15.9M-0.6 726.2H15.9M-0.6 735.5H15.9M-0.6 744.8H15.9M-0.6 754.1H15.9"/>
<g id="hdrC" transform="rotate(-90)" font-size="8.3">
<text x="-681" y="832">Amikacin</text><text x="-681" y="841.8">Beta-Lactam</text><text x="-681" y="851.5">Bleomycin</text><text x="-681" y="861.3">Carbapenem</text><text x="-681" y="871">Cephalosporin</text><text x="-681" y="880.8">Ciprofloxacin</text><text x="-681" y="890.5">Gentamicin</text><text x="-681" y="900.3">Kanamycin</text><text x="-681" y="910">Macrolide</text><text x="-681" y="919.8">Nalidixic acid</text><text x="-681" y="929.5">Quinolone</text><text x="-681" y="939.3">Streptomycin</text><text x="-681" y="949">Sulfonamide</text><text x="-681" y="958.8">Tetracycline</text><text x="-681" y="968.5">Tobramycin</text><text x="-681" y="978.3">Trimethoprim</text>
</g>
<g id="connC">
<path class="tr" d="M407 698.3H593M479 689V754.1M479 689H552M479 707.6H579.5M479 716.9H561M479 726.2H530.6M479 735.5H518.8M479 744.8H494"/>
<path class="ld" d="M552 689H592M579.5 707.6H592M561 716.9H592M530.6 726.2H592M518.8 735.5H592M494 744.8H592M479 754.1H592"/>
</g>
<g id="nodesC" font-size="8.4">
<g id="c0" transform="translate(0 689)"><text class="nC" x="595">ESC AB0876AA AS</text><circle class="o" cx="669" r="3.4"/><text x="734">2019</text><text x="757">United Kingdom</text><path class="d dC" transform="translate(832 0) scale(9.75 1)" d="M1 0h0M4 0h0M5 0h0M9 0h0"/></g>
<g id="c1" transform="translate(0 698.3)"><text class="nC" x="595">ESC LB3394AA AS</text><circle class="o" cx="669" r="3.4"/><text x="682">1.2.3.3.3.3.3</text><text x="734">2020</text><text x="757">United Kingdom</text><path class="d dC" transform="translate(832 0) scale(9.75 1)" d="M1 0h0M4 0h0M5 0h0M6 0h0M9 0h0M11 0h0M12 0h0M15 0h0"/></g>
<g id="c2" transform="translate(0 707.6)"><text class="nC" x="595">ESC MB1813AA AS</text><circle class="o" cx="669" r="3.4"/><text x="682">1.3.6.6.6.6.6</text><text x="734">2020</text><text x="757">United Kingdom</text><path class="d dC" transform="translate(832 0) scale(9.75 1)" d="M4 0h0M5 0h0M8 0h0M9 0h0"/></g>
<g id="c3" transform="translate(0 716.9)"><text class="nC" x="595">ESC FB8609AA AS</text><circle class="o" cx="669" r="3.4"/><text x="734">2019</text><text x="757">Portugal</text><path class="d dC" transform="translate(832 0) scale(9.75 1)" d="M0 0h0M1 0h0M3 0h0M4 0h0M5 0h0M6 0h0M7 0h0M9 0h0M11 0h0M12 0h0M13 0h0M14 0h0M15 0h0"/></g>
<g id="c4" transform="translate(0 726.2)"><text class="nC" x="595">ESC KB9924AA AS</text><circle class="o" cx="669" r="3.4"/><text x="734">2018</text><text x="757">Netherlands</text><path class="d dC" transform="translate(832 0) scale(9.75 1)" d="M4 0h0M5 0h0M8 0h0M9 0h0M10 0h0M11 0h0M12 0h0M13 0h0M15 0h0"/></g>
<g id="c5" transform="translate(0 735.5)"><text class="nC" x="595">ESC FB9069AA AS</text><circle class="o" cx="669" r="3.4"/><text x="682">1.1.2.2.2.2.2</text><text x="734">2019</text><text x="757">United Kingdom</text><path class="d dC" transform="translate(832 0) scale(9.75 1)" d="M0 0h0M4 0h0M5 0h0M6 0h0M7 0h0M9 0h0M10 0h0M11 0h0M12 0h0M13 0h0M14 0h0M15 0h0"/></g>
<g id="c6" transform="translate(0 744.8)"><text class="nC" x="595">s_6558</text><circle class="f" cx="669" r="3.4"/><text x="682">1.1.5.5.5.5.5</text><text x="734">2019</text><text x="757">Benin</text><path class="d dC" transform="translate(832 0) scale(9.75 1)" d="M0 0h0M4 0h0M5 0h0M6 0h0M7 0h0M9 0h0M10 0h0M11 0h0M12 0h0M13 0h0M14 0h0M15 0h0"/></g>
<g id="c7" transform="translate(0 754.1)"><text class="nC" x="595">s_12845</text><circle class="f" cx="669" r="3.4"/><text x="682">1.1.4.4.4.4.4</text><text x="734">2019</text><text x="757">Benin</text><path class="d dC" transform="translate(832 0) scale(9.75 1)" d="M0 0h0M4 0h0M5 0h0M6 0h0M7 0h0M9 0h0M10 0h0M11 0h0M12 0h0M13 0h0M14 0h0M15 0h0"/></g>
</g>
</g>

<!-- PANEL D -->
<g id="panelD">
<text class="pl" x="377" y="795.5">D</text>
<text class="ts" x="394" y="804">Tree scale: 100</text>
<path class="sb" d="M428 804H446M428 802.3V805.7M446 802.3V805.7M437 803V805"/>
<path id="gridD" class="g" transform="translate(829 0) scale(9.51 1)" d="M0 857V1088M1 857V1088M2 857V1088M3 857V1088M4 857V1088M5 857V1088M6 857V1088M7 857V1088M8 857V1088M9 857V1088M10 857V1088M11 857V1088M12 857V1088M13 857V1088M14 857V1088M15 857V1088M-0.7 861.7H16.1M-0.7 870.9H16.1M-0.7 880H16.1M-0.7 889.2H16.1M-0.7 898.4H16.1M-0.7 907.6H16.1M-0.7 916.7H16.1M-0.7 925.9H16.1M-0.7 935.1H16.1M-0.7 944.2H16.1M-0.7 953.4H16.1M-0.7 962.6H16.1M-0.7 971.7H16.1M-0.7 980.9H16.1M-0.7 990.1H16.1M-0.7 999.3H16.1M-0.7 1008.4H16.1M-0.7 1017.6H16.1M-0.7 1026.8H16.1M-0.7 1035.9H16.1M-0.7 1045.1H16.1M-0.7 1054.3H16.1M-0.7 1063.4H16.1M-0.7 1072.6H16.1M-0.7 1081.8H16.1"/>
<g id="hdrD" transform="rotate(-90)" font-size="8">
<text x="-855" y="829">Amikacin</text><text x="-855" y="838.5">Beta-Lactam</text><text x="-855" y="848">Bleomycin</text><text x="-855" y="857.5">Carbapenem</text><text x="-855" y="867">Cephalosporin</text><text x="-855" y="876.6">Ciprofloxacin</text><text x="-855" y="886.1">Gentamicin</text><text x="-855" y="895.6">Kanamycin</text><text x="-855" y="905.1">Macrolide</text><text x="-855" y="914.6">Nalidixic acid</text><text x="-855" y="924.1">Quinolone</text><text x="-855" y="933.6">Streptomycin</text><text x="-855" y="943.1">Sulfonamide</text><text x="-855" y="952.6">Tetracycline</text><text x="-855" y="962.1">Tobramycin</text><text x="-855" y="971.7">Trimethoprim</text>
</g>
<g id="connD">
<path class="tr" d="M397 883.7H464.7M464.7 861.7V933.7M464.7 861.7H531M464.7 870.9H498M464.7 880H492.7M464.7 933.7H527.3M527.3 907.6V1077.3M527.3 907.6H554.3M554.3 898.4V935.1M554.3 898.4H563.7M554.3 907.6H559M527.3 944.2H533.7M527.3 962.6H533.7M533.7 953.4V971.7M527.3 980.9H531M527.3 1077.3H568.3M568.3 1072.6V1081.8M568.3 1072.6H579"/>
<path class="ld" d="M531 861.7H579M498 870.9H579M492.7 880H579M464.7 889.2H579M563.7 898.4H579M559 907.6H579M554.3 916.7H579M554.3 925.9H579M554.3 935.1H579M533.7 944.2H579M533.7 953.4H579M533.7 962.6H579M533.7 971.7H579M531 980.9H579M527.3 990.1H579M527.3 999.3H579M527.3 1008.4H579M527.3 1017.6H579M527.3 1026.8H579M527.3 1035.9H579M527.3 1045.1H579M527.3 1054.3H579M527.3 1063.4H579M568.3 1081.8H579"/>
</g>
<g id="nodesD" font-size="8.2">
<g id="d0" transform="translate(0 861.7)"><text class="nD" x="582">ESC UB1905AA AS</text><circle class="o" cx="654" r="3.4"/><text x="667">5.5.5.5.5.5.5</text><text x="741">2018</text><text x="764">Denmark</text><path class="d dD" transform="translate(829 0) scale(9.51 1)" d="M4 0h0"/></g>
<g id="d1" transform="translate(0 870.9)"><text class="nD" x="582">ESC UB1756AA AS</text><circle class="o" cx="654" r="3.4"/><text x="741">2018</text><text x="764">Denmark</text><path class="d dD" transform="translate(829 0) scale(9.51 1)" d="M4 0h0"/></g>
<g id="d2" transform="translate(0 880)"><text class="nD" x="582">ESC NB7682AA AS</text><circle class="o" cx="654" r="3.4"/><text x="667">6.6.6.6.6.6.6</text><text x="741">2018</text><text x="764">Switzerland</text><path class="d dD" transform="translate(829 0) scale(9.51 1)" d="M1 0h0M4 0h0M11 0h0M12 0h0M15 0h0"/></g>
<g id="d3" transform="translate(0 889.2)"><text class="nD" x="582">ESC HB7716AA AS</text><circle class="o" cx="654" r="3.4"/><text x="741">2019</text><text x="764">United Kingdom</text><path class="d dD" transform="translate(829 0) scale(9.51 1)" d="M4 0h0"/></g>
<g id="d4" transform="translate(0 898.4)"><text class="nD" x="582">ESC MB7997AA AS</text><circle class="o" cx="654" r="3.4"/><text x="741">2019</text><text x="764">Romania</text><path class="d dD" transform="translate(829 0) scale(9.51 1)" d="M1 0h0M2 0h0M3 0h0M4 0h0M5 0h0M8 0h0M9 0h0M10 0h0M11 0h0M12 0h0M13 0h0M15 0h0"/></g>
<g id="d5" transform="translate(0 907.6)"><text class="nD" x="582">ESC LB2205AA AS</text><circle class="o" cx="654" r="3.4"/><text x="741">2018</text><text x="764">Portugal</text><path class="d dD" transform="translate(829 0) scale(9.51 1)" d="M0 0h0M3 0h0M4 0h0M5 0h0M7 0h0M8 0h0M9 0h0M10 0h0M11 0h0M12 0h0M13 0h0M14 0h0M15 0h0"/></g>
<g id="d6" transform="translate(0 916.7)"><text class="nD" x="582">ESC FB1408AA AS</text><circle class="o" cx="654" r="3.4"/><text x="741">2018</text><text x="764">Germany</text><path class="d dD" transform="translate(829 0) scale(9.51 1)" d="M0 0h0M1 0h0M2 0h0M3 0h0M4 0h0M5 0h0M7 0h0M8 0h0M9 0h0M10 0h0M11 0h0M12 0h0M13 0h0M14 0h0M15 0h0"/></g>
<g id="d7" transform="translate(0 925.9)"><text class="nD" x="582">ESC FB1365AA AS</text><circle class="o" cx="654" r="3.4"/><text x="741">2018</text><text x="764">Germany</text><path class="d dD" transform="translate(829 0) scale(9.51 1)" d="M0 0h0M1 0h0M2 0h0M3 0h0M4 0h0M5 0h0M7 0h0M8 0h0M9 0h0M10 0h0M11 0h0M12 0h0M13 0h0M14 0h0M15 0h0"/></g>
<g id="d8" transform="translate(0 935.1)"><text class="nD" x="582">ESC EB0820AA AS</text><circle class="o" cx="654" r="3.4"/><text x="741">2018</text><text x="764">Germany</text><path class="d dD" transform="translate(829 0) scale(9.51 1)" d="M0 0h0M1 0h0M3 0h0M4 0h0M5 0h0M7 0h0M8 0h0M9 0h0M10 0h0M11 0h0M12 0h0M13 0h0M14 0h0M15 0h0"/></g>
<g id="d9" transform="translate(0 944.2)"><text class="nD" x="582">ESC FB9431AA AS</text><circle class="o" cx="654" r="3.4"/><text x="667">2.2.2.2.2.2.2</text><text x="741">2018</text><text x="764">Nigeria</text><path class="d dD" transform="translate(829 0) scale(9.51 1)" d="M0 0h0M1 0h0M3 0h0M4 0h0M5 0h0M6 0h0M7 0h0M8 0h0M9 0h0M10 0h0M11 0h0M12 0h0M13 0h0M14 0h0M15 0h0"/></g>
<g id="d10" transform="translate(0 953.4)"><text class="nD" x="582">ESC EB5402AA AS</text><circle class="o" cx="654" r="3.4"/><text x="741">2018</text><text x="764">Germany</text><path class="d dD" transform="translate(829 0) scale(9.51 1)" d="M0 0h0M1 0h0M2 0h0M3 0h0M4 0h0M5 0h0M6 0h0M7 0h0M8 0h0M9 0h0M10 0h0M11 0h0M12 0h0M13 0h0M14 0h0M15 0h0"/></g>
<g id="d11" transform="translate(0 962.6)"><text class="nD" x="582">ESC FB1414AA AS</text><circle class="o" cx="654" r="3.4"/><text x="741">2018</text><text x="764">Germany</text><path class="d dD" transform="translate(829 0) scale(9.51 1)" d="M0 0h0M1 0h0M2 0h0M3 0h0M4 0h0M5 0h0M6 0h0M7 0h0M9 0h0M10 0h0M11 0h0M12 0h0M13 0h0M14 0h0M15 0h0"/></g>
<g id="d12" transform="translate(0 971.7)"><text class="nD" x="582">ESC LB5918AA AS</text><circle class="o" cx="654" r="3.4"/><text x="667">4.4.4.4.4.4.4</text><text x="741">2018</text><text x="764">Denmark</text><path class="d dD" transform="translate(829 0) scale(9.51 1)" d="M0 0h0M1 0h0M3 0h0M4 0h0M5 0h0M6 0h0M7 0h0M9 0h0M10 0h0M11 0h0M12 0h0M13 0h0M14 0h0M15 0h0"/></g>
<g id="d13" transform="translate(0 980.9)"><text class="nD" x="582">ESC LB2147AA AS</text><circle class="o" cx="654" r="3.4"/><text x="741">2019</text><text x="764">Switzerland</text><path class="d dD" transform="translate(829 0) scale(9.51 1)" d="M0 0h0M1 0h0M3 0h0M4 0h0M5 0h0M8 0h0M9 0h0M10 0h0M11 0h0M12 0h0M13 0h0M14 0h0M15 0h0"/></g>
<g id="d14" transform="translate(0 990.1)"><text class="nD" x="582">s_12480</text><circle class="f" cx="654" r="3.4"/><text x="667">3.3.10.10.10.10.10</text><text x="741">2019</text><text x="764">Benin</text><path class="d dD" transform="translate(829 0) scale(9.51 1)" d="M0 0h0M1 0h0M3 0h0M4 0h0M5 0h0M8 0h0M9 0h0M10 0h0M11 0h0M12 0h0M13 0h0M14 0h0M15 0h0"/></g>
<g id="d15" transform="translate(0 999.3)"><text class="nD" x="582">s_13150</text><circle class="f" cx="654" r="3.4"/><text x="667">3.3.11.11.11.11.11</text><text x="741">2019</text><text x="764">Benin</text><path class="d dD" transform="translate(829 0) scale(9.51 1)" d="M0 0h0M1 0h0M3 0h0M4 0h0M5 0h0M8 0h0M9 0h0M10 0h0M11 0h0M12 0h0M13 0h0M14 0h0M15 0h0"/></g>
<g id="d16" transform="translate(0 1008.4)"><text class="nD" x="582">ESC LB2143AA AS</text><circle class="o" cx="654" r="3.4"/><text x="667">7.7.7.7.7.7.7</text><text x="741">2019</text><text x="764">Switzerland</text><path class="d dD" transform="translate(829 0) scale(9.51 1)" d="M0 0h0M1 0h0M2 0h0M3 0h0M4 0h0M5 0h0M7 0h0M9 0h0M10 0h0M11 0h0M12 0h0M13 0h0M14 0h0M15 0h0"/></g>
<g id="d17" transform="translate(0 1017.6)"><text class="nD" x="582">ESC FB0879AA AS</text><circle class="o" cx="654" r="3.4"/><text x="741">2018</text><text x="764">Germany</text><path class="d dD" transform="translate(829 0) scale(9.51 1)" d="M0 0h0M1 0h0M2 0h0M3 0h0M4 0h0M5 0h0M9 0h0M10 0h0M11 0h0M12 0h0M13 0h0M14 0h0M15 0h0"/></g>
<g id="d18" transform="translate(0 1026.8)"><text class="nD" x="582">ESC FB0885AA AS</text><circle class="o" cx="654" r="3.4"/><text x="741">2018</text><text x="764">Germany</text><path class="d dD" transform="translate(829 0) scale(9.51 1)" d="M1 0h0M2 0h0M3 0h0M4 0h0M5 0h0M6 0h0M8 0h0M9 0h0M10 0h0M11 0h0M12 0h0M13 0h0M15 0h0"/></g>
<g id="d19" transform="translate(0 1035.9)"><text class="nD" x="582">ESC LB5912AA AS</text><circle class="o" cx="654" r="3.4"/><text x="667">3.3.3.3.3.3.12</text><text x="741">2018</text><text x="764">Denmark</text><path class="d dD" transform="translate(829 0) scale(9.51 1)" d="M0 0h0M1 0h0M3 0h0M4 0h0M5 0h0M7 0h0M9 0h0M10 0h0M11 0h0M12 0h0M13 0h0M14 0h0M15 0h0"/></g>
<g id="d20" transform="translate(0 1045.1)"><text class="nD" x="582">ESC LB5911AA AS</text><circle class="o" cx="654" r="3.4"/><text x="667">3.3.3.3.3.3.8</text><text x="741">2018</text><text x="764">Denmark</text><path class="d dD" transform="translate(829 0) scale(9.51 1)" d="M0 0h0M1 0h0M2 0h0M3 0h0M4 0h0M5 0h0M6 0h0M7 0h0M8 0h0M9 0h0M10 0h0M11 0h0M12 0h0M13 0h0M14 0h0M15 0h0"/></g>
<g id="d21" transform="translate(0 1054.3)"><text class="nD" x="582">ESC LB5909AA AS</text><circle class="o" cx="654" r="3.4"/><text x="667">3.3.3.3.3.3.3</text><text x="741">2018</text><text x="764">Denmark</text><path class="d dD" transform="translate(829 0) scale(9.51 1)" d="M0 0h0M1 0h0M3 0h0M4 0h0M5 0h0M7 0h0M9 0h0M10 0h0M11 0h0M12 0h0M13 0h0M14 0h0M15 0h0"/></g>
<g id="d22" transform="translate(0 1063.4)"><text class="nD" x="582">ESC LB5910AA AS</text><circle class="o" cx="654" r="3.4"/><text x="667">3.3.3.3.3.3.3</text><text x="741">2018</text><text x="764">Denmark</text><path class="d dD" transform="translate(829 0) scale(9.51 1)" d="M0 0h0M1 0h0M2 0h0M3 0h0M4 0h0M5 0h0M6 0h0M7 0h0M8 0h0M9 0h0M10 0h0M11 0h0M12 0h0M13 0h0M14 0h0M15 0h0"/></g>
<g id="d23" transform="translate(0 1072.6)"><text class="nD" x="582">ESC LB2269AA AS</text><circle class="o" cx="654" r="3.4"/><text x="741">2019</text><text x="764">Switzerland</text><path class="d dD" transform="translate(829 0) scale(9.51 1)" d="M3 0h0M4 0h0M5 0h0M9 0h0M10 0h0"/></g>
<g id="d24" transform="translate(0 1081.8)"><text class="nD" x="582">ESC EB5421AA AS</text><circle class="o" cx="654" r="3.4"/><text x="741">2018</text><text x="764">Germany</text><path class="d dD" transform="translate(829 0) scale(9.51 1)" d="M2 0h0M3 0h0M4 0h0M5 0h0M8 0h0M9 0h0M11 0h0M12 0h0M15 0h0"/></g>
</g>
</g>

<!-- CAPTION -->
<g id="caption">
<text class="cap" x="24" y="1146.5" textLength="1294"><tspan class="b">FIGURE 3</tspan> | cgMLST-based minimum spanning trees annotated with SNP typing results for samples classified as ST405 <tspan class="b">(A)</tspan>, ST131 <tspan class="b">(B)</tspan>, ST1193 <tspan class="b">(C)</tspan>, and ST410</text>
<text class="cap" x="24" y="1171.8" textLength="1292"><tspan class="b">(D)</tspan>. The scale bar and branch lengths are expressed as the number of allele differences. Annotations are (from left to right) as: sample name, sample origin (this</text>
<text class="cap" x="24" y="1197.1" textLength="1295">study with a filled blue box or EnteroBase with an empty box), SNP address, isolation year, isolation country, and predicted AMR susceptibility based on genotypic</text>
<text class="cap" x="24" y="1222.4" textLength="1295">AMR prediction. Samples with missing SNP addresses did not have publicly available Illumina paired-end data or were filtered out because their coverage was too</text>
<text class="cap" x="24" y="1247.7" textLength="1307">low. Predicted AMR susceptibility is shown for the 16 antibiotics that were most often predicted (full results are provided in <tspan class="b">Supplementary Table S5</tspan>). The top two</text>
<text class="cap" x="24" y="1273">clades in subfigure <tspan class="b">B</tspan> were collapsed for visual clarity and contain 18 and 9 isolates, respectively.</text>
</g>
</svg>
